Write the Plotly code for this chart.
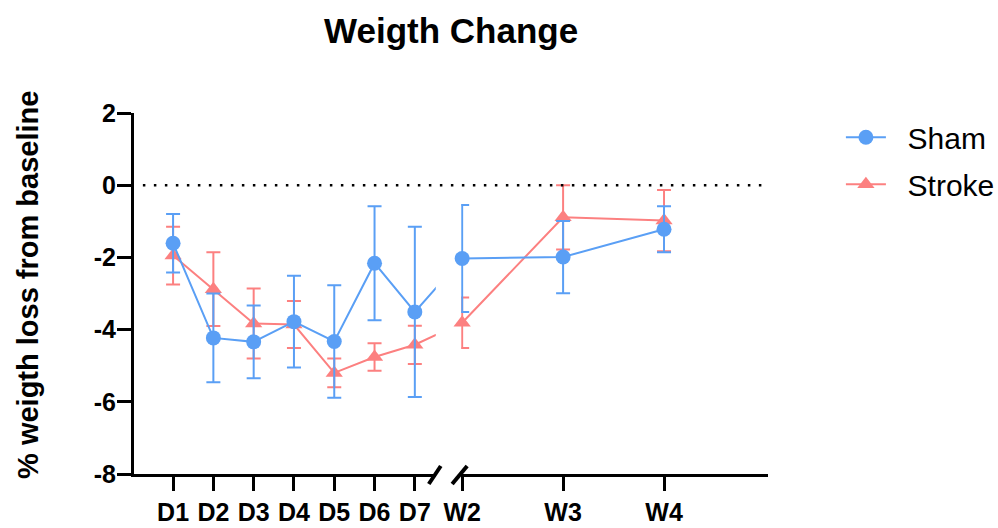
import plotly.graph_objects as go

# ---- data ----
day_labels = ["D1", "D2", "D3", "D4", "D5", "D6", "D7"]
week_labels = ["W2", "W3", "W4"]

sham_days = [-1.61, -4.23, -4.34, -3.78, -4.33, -2.16, -3.51]
sham_days_err = [0.81, 1.23, 1.01, 1.27, 1.56, 1.58, 2.36]
sham_weeks = [-2.03, -1.99, -1.22]
sham_weeks_err = [1.48, 1.0, 0.64]

stroke_days = [-1.95, -2.88, -3.83, -3.86, -5.2, -4.76, -4.42]
stroke_days_err = [0.8, 1.02, 0.97, 0.65, 0.4, 0.38, 0.53]
stroke_weeks = [-3.81, -0.89, -0.98]
stroke_weeks_err = [0.7, 0.89, 0.85]

y_ticks = [-8, -6, -4, -2, 0, 2]
y_tick_labels = ["-8", "-6", "-4", "-2", "0", "2"]

# ---- layout geometry ----
W, H = 998, 528
ML, MR, MT, MB = 134, 230, 113, 54
plot_w = W - ML - MR
plot_h = H - MT - MB
dom1 = [0.0, 0.476]
dom2 = [0.516, 1.0]
r1 = [0.03, 7.52]
r2 = [1.99, 5.03]

# position of W2 expressed in the left (day) axis units, so that the line
# from D7 heads toward W2 across the axis break
px1_per_unit = (dom1[1] - dom1[0]) * plot_w / (r1[1] - r1[0])
px2_per_unit = (dom2[1] - dom2[0]) * plot_w / (r2[1] - r2[0])
w2_px = dom2[0] * plot_w + (2 - r2[0]) * px2_per_unit
w2_in_days = r1[0] + (w2_px - dom1[0] * plot_w) / px1_per_unit

day_x = list(range(1, 8))
week_x = [2, 3, 4]

BLUE = "#5A9FF5"
RED = "#FC8080"
FONT = "Liberation Sans, Arial, sans-serif"
PAD = "\u00a0\u00a0"  # gap between legend symbol and label

fig = go.Figure()

def add_series(name, color, symbol, dy, de, wy, we, rank):
    msize = 15
    # left segment (days), includes W2 so the line runs into the break
    fig.add_trace(go.Scatter(
        x=day_x + [w2_in_days], y=dy + [wy[0]],
        error_y=dict(type="data", array=de + [we[0]], color=color, thickness=2, width=7),
        mode="lines+markers", name=PAD + name, legendgroup=name, showlegend=True,
        legendrank=rank,
        line=dict(color=color, width=2),
        marker=dict(color=color, size=msize, symbol=symbol),
        xaxis="x", yaxis="y",
    ))
    # right segment (weeks)
    fig.add_trace(go.Scatter(
        x=week_x, y=wy,
        error_y=dict(type="data", array=we, color=color, thickness=2, width=7),
        mode="lines+markers", name=PAD + name, legendgroup=name, showlegend=False,
        line=dict(color=color, width=2),
        marker=dict(color=color, size=msize, symbol=symbol),
        cliponaxis=False,
        xaxis="x2", yaxis="y",
    ))

add_series("Stroke", RED, "triangle-up", stroke_days, stroke_days_err,
           stroke_weeks, stroke_weeks_err, 2)
add_series("Sham", BLUE, "circle", sham_days, sham_days_err,
           sham_weeks, sham_weeks_err, 1)

tickfont = dict(family=FONT, size=25, color="black", weight="bold")

fig.update_layout(
    width=W, height=H,
    margin=dict(l=ML, r=MR, t=MT, b=MB, autoexpand=False),
    paper_bgcolor="white", plot_bgcolor="white",
    title=dict(text="<b>Weigth Change</b>", x=0.452, xanchor="center",
               y=0.942, yanchor="middle",
               font=dict(family=FONT, size=35, color="black")),
    showlegend=True,
    legend=dict(x=1.115, y=1.005, xanchor="left", yanchor="top",
                font=dict(family=FONT, size=30, color="black"),
                tracegroupgap=5, traceorder="grouped", itemwidth=40,
                bgcolor="rgba(0,0,0,0)"),
    xaxis=dict(domain=dom1, range=r1, tickvals=day_x, ticktext=day_labels,
               showline=True, linecolor="black", linewidth=3,
               ticks="outside", ticklen=14, tickwidth=3, tickcolor="black",
               showgrid=False, zeroline=False, tickfont=tickfont, anchor="y",
               automargin=False),
    xaxis2=dict(domain=dom2, range=r2, tickvals=week_x, ticktext=week_labels,
                showline=True, linecolor="black", linewidth=3,
                ticks="outside", ticklen=14, tickwidth=3, tickcolor="black",
                showgrid=False, zeroline=False, tickfont=tickfont, anchor="y",
                automargin=False),
    yaxis=dict(range=[-8, 2], tickvals=y_ticks, ticktext=y_tick_labels,
               showline=True, linecolor="black", linewidth=3,
               ticks="outside", ticklen=14, tickwidth=3, tickcolor="black",
               showgrid=False, zeroline=False, tickfont=tickfont,
               ticklabelstandoff=-4, automargin=False),
)

# y-axis title
fig.add_annotation(text="<b>% weigth loss from baseline</b>", textangle=-90,
                   xref="paper", yref="paper", x=-0.167, y=0.524,
                   xanchor="center", yanchor="middle", showarrow=False,
                   font=dict(family=FONT, size=29, color="black"))

# dotted baseline at 0
fig.add_shape(type="line", xref="paper", yref="y", x0=0.014, x1=1.0, y0=0, y1=0,
              line=dict(color="black", width=2.5, dash="2.5px,8.5px"))

# axis-break marks
for xr, anchor, a0, a1 in [("x domain", 1.0, -7, 5), ("x2 domain", 0.0, -9, 6)]:
    fig.add_shape(type="line", xref=xr, yref="y domain",
                  xsizemode="pixel", xanchor=anchor, x0=a0, x1=a1,
                  ysizemode="pixel", yanchor=0, y0=-10, y1=8,
                  line=dict(color="black", width=4))

fig.write_html("out.html",
               config={"displayModeBar": False},
               post_script="document.body.style.margin='0';"
                           "document.body.style.padding='0';")
